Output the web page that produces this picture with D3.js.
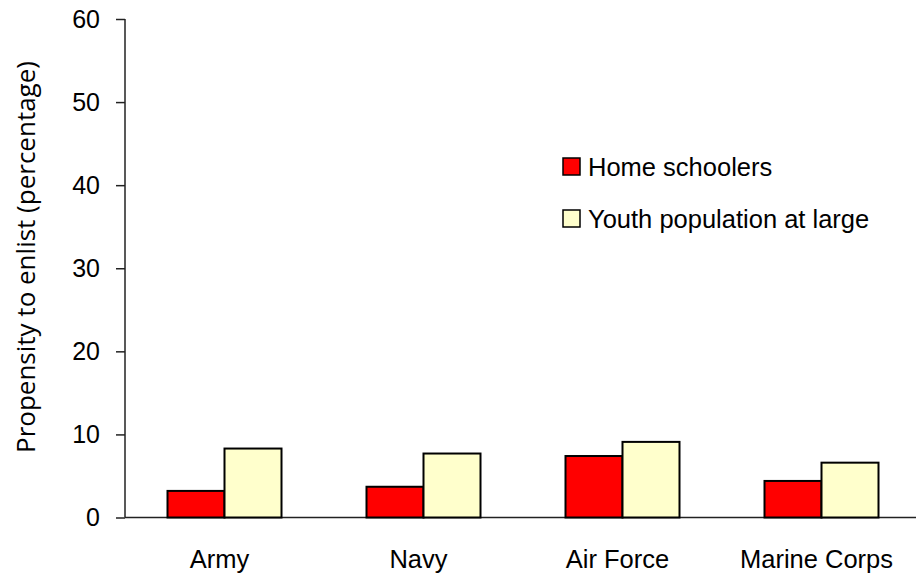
<!DOCTYPE html>
<html>
<head>
<meta charset="utf-8">
<script src="https://cdn.jsdelivr.net/npm/d3@7"></script>
<style>
  body { margin: 0; background: #fff; }
  svg { display: block; }
</style>
</head>
<body>
<div id="chart"></div>
<script>
// Dimensioni
const width = 916;
const height = 578;

// Dati
const branches = ["Army", "Navy", "Air Force", "Marine Corps"];
const seriesNames = ["Home schoolers", "Youth population at large"];
const homeSchoolers = [3.2, 3.7, 7.4, 4.4];
const youthAtLarge = [8.3, 7.7, 9.1, 6.6];
const yTicks = [0, 10, 20, 30, 40, 50, 60];
const colors = ["#ff0000", "#ffffcc"];

const rows = branches.map((b, i) => ({ branch: b, values: [homeSchoolers[i], youthAtLarge[i]] }));

const svg = d3.select("#chart")
  .append("svg")
  .attr("width", width)
  .attr("height", height);

const plotLeft = 125, plotTop = 19, plotBottom = 517.5;
const font = "'Liberation Sans', Arial, sans-serif";

const y = d3.scaleLinear().domain([0, 60]).range([plotBottom, plotTop]);
const x0 = d3.scaleBand().domain(branches).range([plotLeft, plotLeft + 4 * 199]).padding(0);
const barW = 57;
const x1 = d3.scaleBand().domain([0, 1])
  .range([x0.bandwidth() / 2 - barW, x0.bandwidth() / 2 + barW]).padding(0);

// Asse Y
const yAxis = svg.append("g")
  .attr("transform", `translate(${plotLeft},0)`)
  .call(d3.axisLeft(y).tickValues(yTicks).tickSize(9).tickPadding(16));
yAxis.select(".domain").attr("stroke", "#222").attr("stroke-width", 1.5).attr("d", `M0,${y(60)}V${y(0)}`);
yAxis.selectAll(".tick line").attr("stroke", "#222").attr("stroke-width", 1.5);
yAxis.selectAll(".tick text")
  .attr("font-family", font)
  .attr("font-size", 25)
  .attr("fill", "#000");

// Asse X (linea base)
svg.append("line")
  .attr("x1", plotLeft).attr("x2", width)
  .attr("y1", y(0)).attr("y2", y(0))
  .attr("stroke", "#222").attr("stroke-width", 1.5);

// Barre
const groups = svg.append("g").selectAll("g")
  .data(rows)
  .enter().append("g")
  .attr("transform", d => `translate(${x0(d.branch)},0)`);

groups.selectAll("rect")
  .data(d => d.values.map((v, i) => ({ v, i })))
  .enter().append("rect")
  .attr("x", d => x1(d.i))
  .attr("width", x1.bandwidth())
  .attr("y", d => y(d.v))
  .attr("height", d => y(0) - y(d.v))
  .attr("fill", d => colors[d.i])
  .attr("stroke", "#000")
  .attr("stroke-width", 2);

// Etichette categorie
svg.append("g").selectAll("text")
  .data(branches)
  .enter().append("text")
  .attr("x", d => x0(d) + x0.bandwidth() / 2 - 5)
  .attr("y", 568)
  .attr("text-anchor", "middle")
  .attr("font-family", font)
  .attr("font-size", 25.5)
  .text(d => d);

// Titolo asse Y
svg.append("text")
  .attr("transform", "translate(35,257) rotate(-90)")
  .attr("text-anchor", "middle")
  .attr("font-family", "'Open Sans', sans-serif")
  .attr("font-size", 26)
  .text("Propensity to enlist (percentage)");

// Legenda
const legend = svg.append("g").attr("transform", "translate(563,158)");
const items = legend.selectAll("g")
  .data(seriesNames)
  .enter().append("g")
  .attr("transform", (d, i) => `translate(0,${i * 52})`);
items.append("rect")
  .attr("width", 17).attr("height", 17)
  .attr("fill", (d, i) => colors[i])
  .attr("stroke", "#000").attr("stroke-width", 1.5);
items.append("text")
  .attr("x", 25).attr("y", 18)
  .attr("font-family", font)
  .attr("font-size", 25.5)
  .text(d => d);
</script>
</body>
</html>
